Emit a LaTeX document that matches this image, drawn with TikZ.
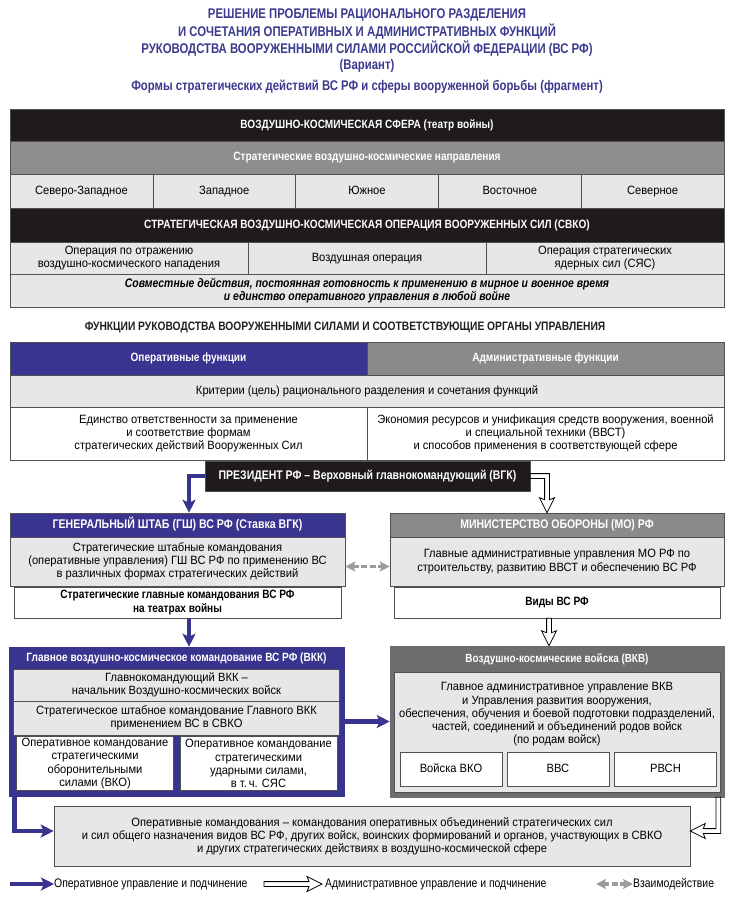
\documentclass[tikz,border=0pt]{standalone}
\usepackage{fontspec}
\setmainfont{Liberation Sans}[FakeStretch=0.93]
\newfontfamily\condf{Liberation Sans}[FakeStretch=0.84]
\newfontfamily\titf{Liberation Sans}[FakeStretch=0.81]
\usetikzlibrary{arrows.meta,calc}
\definecolor{opblue}{HTML}{38348F}
\definecolor{titblue}{HTML}{3B3A8E}
\definecolor{bandblk}{HTML}{1F1B1C}
\definecolor{bandgray}{HTML}{8E8E90}
\definecolor{admgray}{HTML}{8A8A8A}
\definecolor{vkvgray}{HTML}{6E6E70}
\definecolor{cellgray}{HTML}{E7E7E9}
\definecolor{bordc}{HTML}{505050}
\definecolor{intgray}{HTML}{9C9C9C}
\definecolor{headblk}{HTML}{231F20}
\newcommand\bodyf{\fontsize{12}{13.2}\selectfont}
\newcommand\lgdf{\condf\fontsize{12.4}{13.2}\selectfont}
\newcommand\hdf{\condf\bfseries\fontsize{12}{13.5}\selectfont}
\newcommand\shdf{\condf\bfseries\fontsize{11.8}{13}\selectfont}
\newcommand\ttlf{\titf\bfseries\fontsize{14}{17}\selectfont}
\tikzset{
 box/.style={draw=bordc, line width=0.6pt, inner sep=0.5pt, align=center, font=\bodyf},
 one/.style={text height=8.6pt, text depth=2.4pt},
 hdr/.style={box, one, text=white, font=\hdf},
 bbox/.style={box, font=\hdf},
 oparrow/.style={draw=opblue, line width=4.5pt, -{Stealth[length=13pt,width=13pt,inset=3pt]}},
 hollow/.style={draw=black, line width=0.8pt, fill=white, line join=miter},
 inter/.style={draw=intgray, line width=3.2pt, dash pattern=on 6pt off 2.5pt, {Stealth[length=10pt,width=10pt,inset=2pt]}-{Stealth[length=10pt,width=10pt,inset=2pt]}},
 ttl/.style={font=\ttlf, text=titblue, inner sep=0pt},
 lgd/.style={font=\lgdf, anchor=west, inner sep=0pt, one}
}
\begin{document}
\begin{tikzpicture}[x=1pt,y=-1pt]
\useasboundingbox (0,0) rectangle (733,897);
% title
\node[ttl] (t1) at (367,15) {РЕШЕНИЕ ПРОБЛЕМЫ РАЦИОНАЛЬНОГО РАЗДЕЛЕНИЯ};
\node[ttl] (t2) at (367,32) {И СОЧЕТАНИЯ ОПЕРАТИВНЫХ И АДМИНИСТРАТИВНЫХ ФУНКЦИЙ};
\node[ttl] (t3) at (367,49) {РУКОВОДСТВА ВООРУЖЕННЫМИ СИЛАМИ РОССИЙСКОЙ ФЕДЕРАЦИИ (ВС РФ)};
\node[ttl] (t4) at (367,66) {(Вариант)};
\node[ttl] (t5) at (367,87) {Формы стратегических действий ВС РФ и сферы вооруженной борьбы (фрагмент)};
% top block
\node[hdr, fill=bandblk, minimum width=714pt, minimum height=32pt] (sph) at (367,125) {ВОЗДУШНО-КОСМИЧЕСКАЯ СФЕРА (театр войны)};
\node[hdr, fill=bandgray, minimum width=714pt, minimum height=33pt] (dir) at (367,157.5) {Стратегические воздушно-космические направления};
\node[box, one, fill=cellgray, minimum width=142.8pt, minimum height=34pt] (d1) at (81.4,191) {Северо-Западное};
\node[box, one, fill=cellgray, minimum width=142.8pt, minimum height=34pt] (d2) at (224.2,191) {Западное};
\node[box, one, fill=cellgray, minimum width=142.8pt, minimum height=34pt] (d3) at (367,191) {Южное};
\node[box, one, fill=cellgray, minimum width=142.8pt, minimum height=34pt] (d4) at (509.8,191) {Восточное};
\node[box, one, fill=cellgray, minimum width=142.8pt, minimum height=34pt] (d5) at (652.6,191) {Северное};
\node[hdr, fill=bandblk, minimum width=714pt, minimum height=34pt] (svko) at (367,225) {СТРАТЕГИЧЕСКАЯ ВОЗДУШНО-КОСМИЧЕСКАЯ ОПЕРАЦИЯ ВООРУЖЕННЫХ СИЛ (СВКО)};
\node[box, fill=cellgray, minimum width=238pt, minimum height=32pt] (o1) at (129,258) {Операция по отражению\\воздушно-космического нападения};
\node[box, one, fill=cellgray, minimum width=238pt, minimum height=32pt] (o2) at (367,258) {Воздушная операция};
\node[box, fill=cellgray, minimum width=238pt, minimum height=32pt] (o3) at (605,258) {Операция стратегических\\ядерных сил (СЯС)};
\node[box, fill=cellgray, minimum width=714pt, minimum height=33pt, font={\condf\bfseries\itshape\fontsize{12.4}{13.2}\selectfont}] (jnt) at (367,290.5) {Совместные действия, постоянная готовность к применению в мирное и военное время\\и единство оперативного управления в любой войне};
% functions
\node[font={\condf\bfseries\fontsize{12.2}{14}\selectfont}, text=headblk, inner sep=0pt] (fh) at (345,327) {ФУНКЦИИ РУКОВОДСТВА ВООРУЖЕННЫМИ СИЛАМИ И СООТВЕТСТВУЮЩИЕ ОРГАНЫ УПРАВЛЕНИЯ};
\node[hdr, fill=opblue, minimum width=357pt, minimum height=33pt] (of) at (188.5,358.5) {Оперативные функции};
\node[hdr, fill=admgray, minimum width=357pt, minimum height=33pt] (af) at (545.5,358.5) {Административные функции};
\node[box, one, fill=cellgray, minimum width=714pt, minimum height=32pt] (crit) at (367,391) {Критерии (цель) рационального разделения и сочетания функций};
\node[box, fill=white, minimum width=357pt, minimum height=53pt] (crl) at (188.5,433.5) {Единство ответственности за применение\\и соответствие формам\\стратегических действий Вооруженных Сил};
\node[box, fill=white, minimum width=357pt, minimum height=53pt] (crr) at (545.5,433.5) {Экономия ресурсов и унификация средств вооружения, военной\\и специальной техники (ВВСТ)\\и способов применения в соответствующей сфере};
% president
\node[hdr, fill=bandblk, minimum width=325pt, minimum height=30pt, font={\condf\bfseries\fontsize{12.5}{14}\selectfont}] (pres) at (367.5,476) {ПРЕЗИДЕНТ РФ – Верховный главнокомандующий (ВГК)};
% general staff
\node[hdr, fill=opblue, minimum width=335pt, minimum height=24pt, font={\condf\bfseries\fontsize{12.6}{13.5}\selectfont}] (gsh) at (177.5,525) {ГЕНЕРАЛЬНЫЙ ШТАБ (ГШ) ВС РФ (Ставка ВГК)};
\node[box, fill=cellgray, minimum width=335pt, minimum height=49pt] (gshb) at (177.5,561.5) {Стратегические штабные командования\\(оперативные управления) ГШ ВС РФ по применению ВС\\в различных формах стратегических действий};
\node[bbox, fill=white, minimum width=327pt, minimum height=31pt] (sgk) at (177.5,602.5) {Стратегические главные командования ВС РФ\\на театрах войны};
% ministry
\node[hdr, fill=admgray, minimum width=334pt, minimum height=24pt, font={\condf\bfseries\fontsize{12.5}{13.5}\selectfont}] (mo) at (557,525) {МИНИСТЕРСТВО ОБОРОНЫ (МО) РФ};
\node[box, fill=cellgray, minimum width=334pt, minimum height=49pt] (mob) at (557,561.5) {Главные административные управления МО РФ по\\строительству, развитию ВВСТ и обеспечению ВС РФ};
\node[bbox, one, fill=white, minimum width=326pt, minimum height=31pt] (vid) at (557,602.5) {Виды ВС РФ};
% VKK
\node[draw=opblue, fill=opblue, line width=0.6pt, minimum width=335pt, minimum height=149pt, inner sep=0pt] (vkk) at (176.5,721.5) {};
\node[font=\hdf, text=white, inner sep=0pt, one] (vkkh) at (176.5,658.5) {Главное воздушно-космическое командование ВС РФ (ВКК)};
\node[box, fill=cellgray, minimum width=326pt, minimum height=32pt] (vkk1) at (176.5,685) {Главнокомандующий ВКК –\\начальник Воздушно-космических войск};
\node[box, fill=cellgray, minimum width=326pt, minimum height=34pt] (vkk2) at (176.5,718) {Стратегическое штабное командование Главного ВКК\\применением ВС в СВКО};
\node[box, fill=white, minimum width=157pt, minimum height=54pt, inner sep=0pt] (vko) at (95,763.5) {Оперативное командование\\стратегическими\\оборонительными\\силами (ВКО)};
\node[box, fill=white, minimum width=157pt, minimum height=54pt, inner sep=0pt] (udr) at (258.5,763.5) {Оперативное командование\\стратегическими\\ударными силами,\\в т.\,ч. СЯС};
% VKV
\node[draw=vkvgray, fill=vkvgray, line width=0.6pt, minimum width=334pt, minimum height=151pt, inner sep=0pt] (vkv) at (557,721.5) {};
\node[font=\shdf, text=white, inner sep=0pt, one] (vkvh) at (557,659) {Воздушно-космические войска (ВКВ)};
\node[box, fill=cellgray, minimum width=326pt, minimum height=120pt] (vkvp) at (557,732) {};
\node[font=\bodyf, align=center, inner sep=0pt] (vkvt) at (557,714.5) {Главное административное управление ВКВ\\и Управления развития вооружения,\\обеспечения, обучения и боевой подготовки подразделений,\\частей, соединений и объединений родов войск\\(по родам войск)};
\node[box, one, fill=white, minimum width=102pt, minimum height=34pt] (vv1) at (451,769) {Войска ВКО};
\node[box, one, fill=white, minimum width=102pt, minimum height=34pt] (vv2) at (558,769) {ВВС};
\node[box, one, fill=white, minimum width=102pt, minimum height=34pt] (vv3) at (665.5,769) {РВСН};
% bottom
\node[box, fill=cellgray, minimum width=636pt, minimum height=60pt] (opk) at (372,836) {Оперативные командования – командования оперативных объединений стратегических сил\\и сил общего назначения видов ВС РФ, других войск, воинских формирований и органов, участвующих в СВКО\\и других стратегических действиях в воздушно-космической сфере};
% ---- connectors ----
% operative (blue)
\coordinate (b1) at ([xshift=11.5pt]gsh.north);
\draw[oparrow] (pres.west) -| (b1);
\draw[oparrow] ([xshift=11.5pt]sgk.south) -- ([xshift=12.5pt]vkk.north);
\draw[oparrow] (vkk.east) -- (vkk.east -| vkv.west);
\coordinate (a4) at ([yshift=5pt]opk.west);
\draw[oparrow] ([xshift=6pt]vkk.south west) |- (a4);
% interaction
\draw[inter] ([yshift=-5pt]gshb.east) -- ([yshift=-5pt]mob.west);
% administrative (hollow): president -> MO
\coordinate (a1) at ([xshift=-10pt]mo.north);
\coordinate (c1) at (pres.east -| a1);
\draw[hollow] ($(pres.east)+(0,-2.4)$) -- ($(c1)+(2.4,-2.4)$) -- ($(a1)+(2.4,-12.96)$) -- ($(a1)+(7.5,-15)$) -- (a1) -- ($(a1)+(-7.5,-15)$) -- ($(a1)+(-2.4,-12.96)$) -- ($(c1)+(-2.4,2.4)$) -- ($(pres.east)+(0,2.4)$) -- cycle;
% Vidy -> VKV
\coordinate (s2) at ([xshift=-8pt]vid.south);
\coordinate (a2) at (s2 |- vkv.north);
\draw[hollow] ($(s2)+(2.4,0)$) -- ($(a2)+(2.4,-12.96)$) -- ($(a2)+(7.5,-15)$) -- (a2) -- ($(a2)+(-7.5,-15)$) -- ($(a2)+(-2.4,-12.96)$) -- ($(s2)+(-2.4,0)$) -- cycle;
% VKV -> operational commands
\coordinate (s3) at ([xshift=-6pt]vkv.south east);
\coordinate (a3) at ([yshift=5pt]opk.east);
\coordinate (c3) at (s3 |- a3);
\draw[hollow] ($(s3)+(2.4,0)$) -- ($(c3)+(2.4,2.4)$) -- ($(a3)+(12.96,2.4)$) -- ($(a3)+(15,7.5)$) -- (a3) -- ($(a3)+(15,-7.5)$) -- ($(a3)+(12.96,-2.4)$) -- ($(c3)+(-2.4,-2.4)$) -- ($(s3)+(-2.4,0)$) -- cycle;
% ---- legend ----
\coordinate (lg1) at (10,884);
\node[lgd] (lt1) at (54,884) {Оперативное управление и подчинение};
\draw[oparrow] (lg1) -- (lt1.west);
\coordinate (lg2) at (264,884);
\node[lgd] (lt2) at (325,884) {Административное управление и подчинение};
\coordinate (lg2e) at ([xshift=-3pt]lt2.west);
\draw[hollow] ($(lg2)+(0,-2.4)$) -- ($(lg2e)+(-12.96,-2.4)$) -- ($(lg2e)+(-15,-7.5)$) -- (lg2e) -- ($(lg2e)+(-15,7.5)$) -- ($(lg2e)+(-12.96,2.4)$) -- ($(lg2)+(0,2.4)$) -- cycle;
\coordinate (lg3) at (596,884);
\node[lgd] (lt3) at (633,884) {Взаимодействие};
\draw[inter] (lg3) -- (lt3.west);
\end{tikzpicture}
\end{document}
